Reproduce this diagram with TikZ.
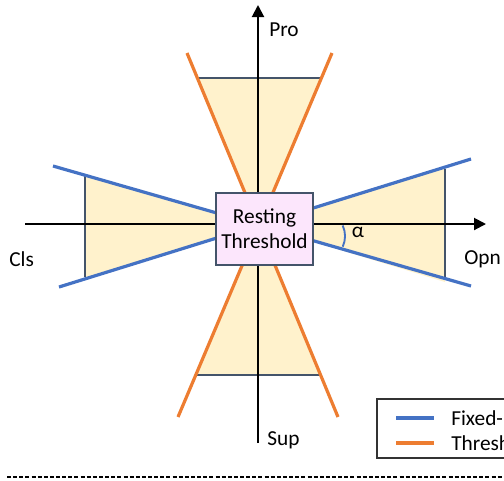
\documentclass[tikz,border=0pt]{standalone}
\usepackage{fontspec}
\setmainfont{Carlito}
\usetikzlibrary{arrows.meta,positioning}
\definecolor{fixblue}{HTML}{4472C4}
\definecolor{throrange}{HTML}{ED7D31}
\definecolor{slate}{HTML}{44546A}
\definecolor{wedge}{HTML}{FFF2CC}
\definecolor{restpink}{HTML}{FCE6FC}
\tikzset{
  axis/.style={line width=1.5pt,-{Triangle[length=9pt,width=9pt]}},
  fixline/.style={fixblue,line width=2.4pt},
  thrline/.style={throrange,line width=2.4pt},
  limit/.style={slate,line width=1.6pt},
  lbl/.style={font=\fontsize{16}{19}\selectfont,inner sep=0pt}
}
\begin{document}
\begin{tikzpicture}[x=0.75pt,y=-0.75pt]
\useasboundingbox (0,0) rectangle (504,480);
\clip (0,0) rectangle (504,480);
% centres of the wedges
\coordinate (cb) at (259,225);
\coordinate (co) at (259,229);
% wedge fills
\fill[wedge] (85,175) -- (cb) -- (85,278) -- cycle;
\fill[wedge] (445,168) -- (cb) -- (445,282) -- cycle;
\fill[wedge] (196,78) -- (co) -- (322,78) -- cycle;
\fill[wedge] (197,375) -- (co) -- (321,375) -- cycle;
% limits
\coordinate (l1) at (85,176); \coordinate (l2) at (85,277);
\coordinate (r1) at (445,169); \coordinate (r2) at (445,280);
\coordinate (t1) at (198,78); \coordinate (t2) at (320,78);
\coordinate (b1) at (197,375); \coordinate (b2) at (321,375);
\draw[limit] (l1) -- (l2);
\draw[limit] (r1) -- (r2);
\draw[limit] (t1) -- (t2);
\draw[limit] (b1) -- (b2);
% axes
\coordinate (xs) at (25,224); \coordinate (xe) at (486,224);
\coordinate (ys) at (258,443); \coordinate (ye) at (258,5);
\draw[axis] (xs) -- (xe);
\draw[axis] (ys) -- (ye);
% fixed-width lines
\coordinate (f1) at (53,166); \coordinate (f2) at (471,286);
\coordinate (f3) at (59,287); \coordinate (f4) at (471,159);
\draw[fixline] (f1) -- (f2);
\draw[fixline] (f3) -- (f4);
% threshold lines
\coordinate (h1) at (187,53); \coordinate (h2) at (338,417);
\coordinate (h3) at (332,53); \coordinate (h4) at (178,417);
\draw[thrline] (h1) -- (h2);
\draw[thrline] (h3) -- (h4);
% resting threshold
\node[draw=slate,line width=1.5pt,fill=restpink,minimum width=72.5pt,minimum height=54pt,
  align=center,lbl] (rest) at (264.5,229) {Resting\\Threshold};
% angle
\draw[fixblue,line width=1.4pt] (342.7,225.5) arc[start angle=25,end angle=-25,radius=18.8pt];
\node[lbl] (alpha) at (358,232) {α};
% axis labels
\node[lbl,anchor=west] (pro) at (269,30) {Pro};
\node[lbl,anchor=west] (sup) at (267,440) {Sup};
\node[lbl,anchor=west] (cls) at (9,259) {Cls};
\node[lbl,anchor=west] (opn) at (464,259) {Opn};
% legend
\draw[line width=1.2pt,black!80] (377,399) rectangle (530,458);
\coordinate (lb1) at (396,418); \coordinate (lb2) at (434,418);
\coordinate (lo1) at (396,443); \coordinate (lo2) at (434,443);
\draw[fixline] (lb1) -- (lb2);
\draw[thrline] (lo1) -- (lo2);
\node[lbl,anchor=west] (legfix) at (451,418) {Fixed-};
\node[lbl,anchor=west] (legthr) at (451,443) {Threshold};
% separator
\coordinate (d1) at (7,477); \coordinate (d2) at (504,477);
\draw[dashed,line width=0.8pt,dash pattern=on 3pt off 1.6pt] (d1) -- (d2);
\end{tikzpicture}
\end{document}
